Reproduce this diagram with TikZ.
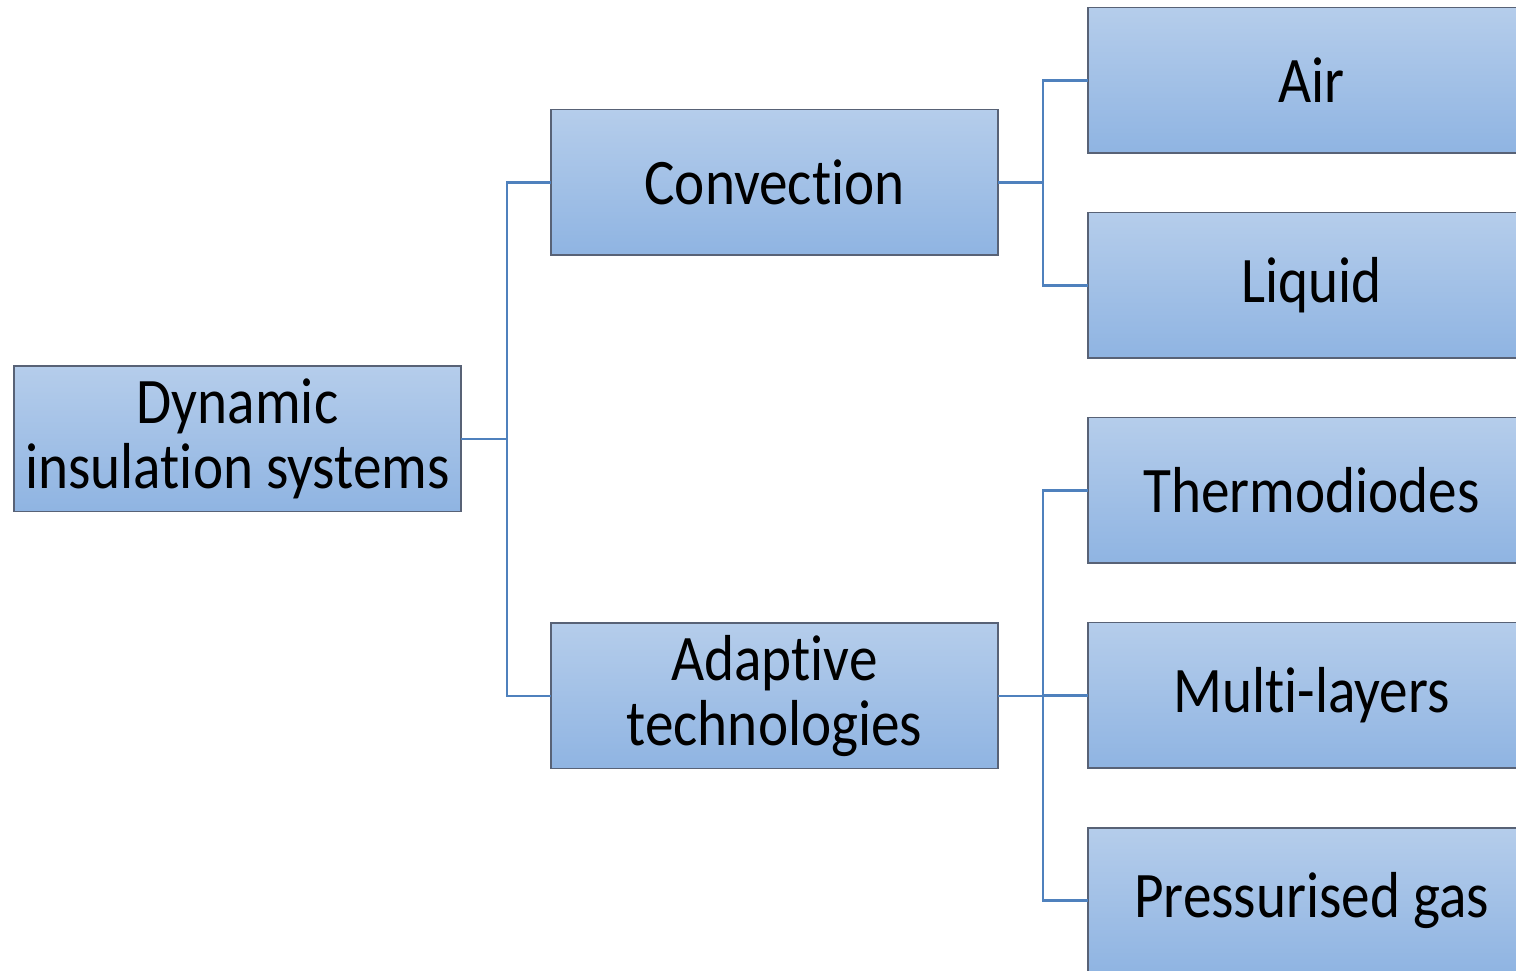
\documentclass[tikz,border=0pt]{standalone}
\usepackage{fontspec}
\setmainfont{Carlito}[FakeStretch=0.88, Ligatures=NoCommon]
\usetikzlibrary{positioning}
\definecolor{boxtop}{RGB}{181,205,235}
\definecolor{boxbot}{RGB}{143,180,226}
\definecolor{boxedge}{RGB}{88,98,118}
\definecolor{linkblue}{RGB}{79,129,189}

\begin{document}
\begin{tikzpicture}[x=0.5pt, y=0.5pt,
       cat/.style={draw=boxedge, line width=0.75pt, top color=boxtop, bottom color=boxbot,
                   minimum width=223.5pt, minimum height=72.75pt, inner sep=0pt, outer sep=0pt,
                   align=center, font=\fontsize{32.5}{32.5}\selectfont},
       link/.style={draw=linkblue, line width=1.4pt}]
     \useasboundingbox (0,0) rectangle (1516,970);
     \clip (0,0) rectangle (1516,970);
     \node[cat] (root) at (237.5,531) {Dynamic\\insulation systems};
     \node[cat] (conv) at (774.5,787.5) {Convection};
     \node[cat] (adapt) at (774.5,274) {Adaptive\\technologies};
     \node[cat] (air) at (1311.5,889.5) {Air};
     \node[cat, below=29.75pt of air] (liquid) {Liquid};
     \node[cat, below=29.75pt of liquid] (thermo) {Thermodiodes};
     \node[cat, below=29.75pt of thermo] (multi) {Multi-layers};
     \node[cat, below=29.75pt of multi] (gas) {Pressurised gas};
     % tree branches
     \draw[link] (root.east) -- ++(23pt,0) coordinate (j0) |- (conv.west);
     \draw[link] (j0) |- (adapt.west);
     \draw[link] (conv.east) -- ++(22.5pt,0) coordinate (j1) |- (air.west);
     \draw[link] (j1) |- (liquid.west);
     \draw[link] (adapt.east) -- ++(22.5pt,0) coordinate (j2) |- (thermo.west);
     \draw[link] (j2) |- (multi.west);
     \draw[link] (j2) |- (gas.west);
   \end{tikzpicture}
\end{document}
